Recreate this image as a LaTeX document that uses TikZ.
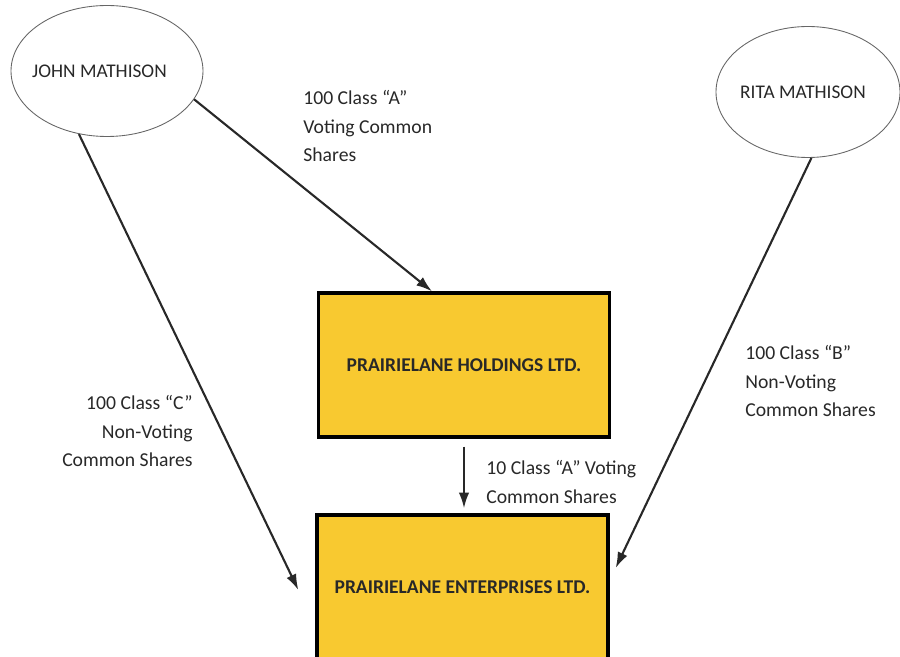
\documentclass[tikz,border=0pt]{standalone}
\usepackage{fontspec}
\setmainfont{Carlito}
\usepackage{tikz}
\usetikzlibrary{positioning}
\usetikzlibrary{arrows.meta}
\usetikzlibrary{shapes.geometric}
\definecolor{gold}{RGB}{248,201,48}
\definecolor{ink}{RGB}{40,40,40}

\begin{document}
\begin{tikzpicture}[>={Latex[length=9pt,width=6pt]},
  person/.style={ellipse,draw=gray!80!black,line width=0.5pt,minimum width=#1,minimum height=2.62cm,inner sep=0pt},
  company/.style={rectangle,draw=black,line width=1.9pt,fill=gold,minimum width=5.82cm,minimum height=2.88cm,font=\fontsize{11.1}{14}\bfseries,inner sep=0pt},
  share/.style={->,draw=ink,line width=1.2pt},
  holding/.style={inner sep=0pt,align=#1,font=\fontsize{11.2}{16.4}\selectfont,text=ink},
  holding/.default=left]
\useasboundingbox (0,0) rectangle (18,-13.14);
\begin{scope}[font=\fontsize{11}{13}\selectfont,text=ink]

% shareholders
\node [person=3.84cm] (john) at (2.14,-1.42) {\hspace*{-0.3cm}JOHN MATHISON};
\node [person=3.68cm] (rita) at (16.16,-1.84) {\hspace*{-0.2cm}RITA MATHISON};

% companies
\node [company] (holdings) at (9.28,-7.3) {PRAIRIELANE HOLDINGS LTD.};
\node [company] (enterprises) at (9.25,-11.74) {PRAIRIELANE ENTERPRISES LTD.};

% arrows
\draw [share] (john.-18) -- ([xshift=-0.64cm]holdings.north);
\draw [share] (john.-114) -- ([xshift=-0.34cm,yshift=-0.06cm]enterprises.west);
\draw [share] (rita.-87) -- ([xshift=0.12cm,yshift=0.38cm]enterprises.east);
\draw [share,shorten <=0.16cm,shorten >=0.1cm] (holdings.south) -- (holdings.south |- enterprises.north);

% labels
\node [holding, anchor=west] (lblA) at (6.06,-2.52) {100 Class “A”\\Voting Common\\Shares};
\node [holding=right, anchor=east] (lblC) at (3.86,-8.62) {100 Class “C”\\Non-Voting\\Common Shares};
\node [holding, anchor=west] (lblB) at (14.9,-7.62) {100 Class “B”\\Non-Voting\\Common Shares};
\node [holding, anchor=west] (lblV) at (9.72,-9.64) {10 Class “A” Voting\\Common Shares};

\end{scope}
\end{tikzpicture}
\end{document}
